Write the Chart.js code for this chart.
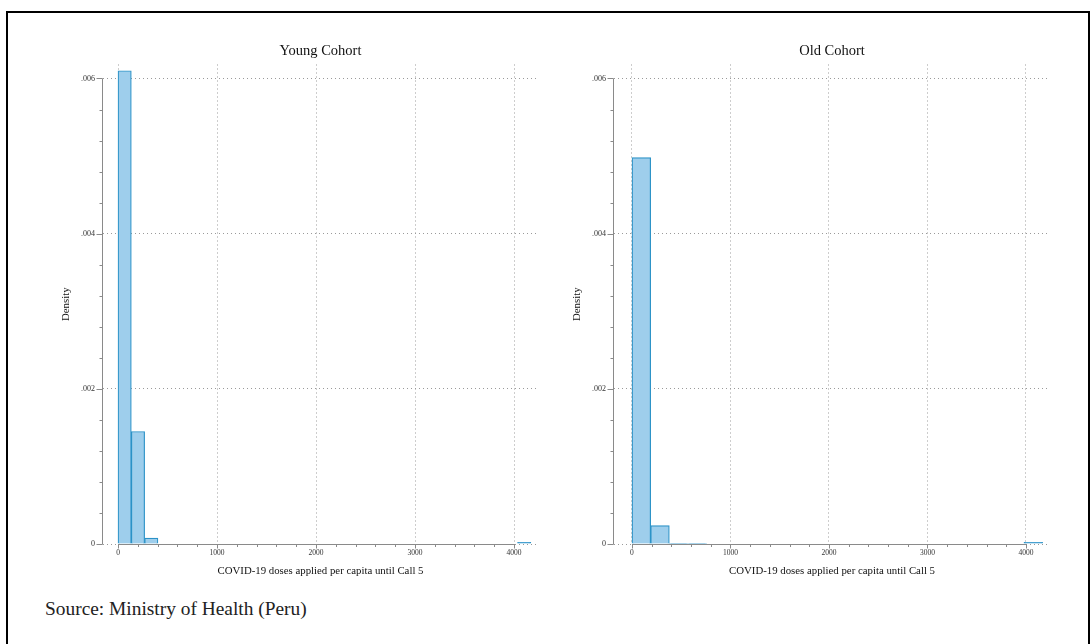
<!DOCTYPE html>
<html><head><meta charset="utf-8">
<script src="https://cdn.jsdelivr.net/npm/chart.js@4.4.1/dist/chart.umd.min.js"></script>
<style>
html,body{margin:0;padding:0;background:#fff;width:1091px;height:644px;overflow:hidden;}
#frame{position:absolute;left:6px;top:11px;width:1084px;height:700px;border:2px solid #000;box-sizing:border-box;}
canvas{position:absolute;}
#c1{left:20px;top:30px;}
#c2{left:545px;top:30px;}
#src{position:absolute;left:45px;top:599px;font-family:"Liberation Serif","Times New Roman",serif;font-size:19.4px;line-height:1;color:#222;white-space:nowrap;}
</style></head>
<body>
<div id="frame"></div>
<canvas id="c1" width="520" height="560"></canvas>
<canvas id="c2" width="520" height="560"></canvas>
<div id="src">Source: Ministry of Health (Peru)</div>
<script>
// ---- data ----
const youngBinCenters = [67.25, 201.75, 336.25, 4102.75];
const youngDensity    = [0.00610, 0.00145, 0.000077, 0.000020];
const oldBinCenters   = [94.75, 284.25, 473.75, 663.25, 4074.25];
const oldDensity      = [0.00498, 0.000236, 0.000010, 0.000004, 0.000020];
const xTickValues = [0, 1000, 2000, 3000, 4000];
const xTickLabels = ['0', '1000', '2000', '3000', '4000'];
const yTickValues = [0, 0.002, 0.004, 0.006];
const yTickLabels = ['0', '.002', '.004', '.006'];
const chartTitles = ['Young Cohort', 'Old Cohort'];
const xAxisTitle = 'COVID-19 doses applied per capita until Call 5';
const yAxisTitle = 'Density';
const xMinorStep = 200;
const yMinorStep = 0.0004;

const FONT = "'Liberation Serif', 'Times New Roman', serif";
Chart.defaults.font.family = FONT;

const axisPlugin = {
  id: 'stataAxes',
  afterDraw(chart) {
    const {ctx, chartArea: a, scales: {x, y}} = chart;
    ctx.save();
    ctx.strokeStyle = '#8a8a8a';
    ctx.lineWidth = 1;
    const L = Math.round(a.left) - 0.5;
    const B = Math.round(a.bottom) + 0.5;
    const y0 = y.getPixelForValue(yTickValues[0]);
    const y1 = y.getPixelForValue(yTickValues[yTickValues.length - 1]);
    const x0 = x.getPixelForValue(xTickValues[0]);
    const x1 = x.getPixelForValue(xTickValues[xTickValues.length - 1]);
    ctx.beginPath();
    ctx.moveTo(L, Math.round(y0) + 0.5); ctx.lineTo(L, Math.round(y1) + 0.5);
    ctx.moveTo(Math.round(x0), B); ctx.lineTo(Math.round(x1) + 1, B);
    const yMax = yTickValues[yTickValues.length - 1];
    for (let i = 0; i * yMinorStep <= yMax + 1e-9; i++) {
      const v = i * yMinorStep;
      const major = yTickValues.some(t => Math.abs(t - v) < 1e-9);
      const py = Math.round(y.getPixelForValue(v)) + 0.5;
      ctx.moveTo(L - (major ? 6 : 3), py); ctx.lineTo(L, py);
    }
    const xMax = xTickValues[xTickValues.length - 1];
    for (let i = 0; i * xMinorStep <= xMax + 1e-9; i++) {
      const v = i * xMinorStep;
      const major = xTickValues.includes(v);
      const px = Math.round(x.getPixelForValue(v)) + 0.5;
      ctx.moveTo(px, B); ctx.lineTo(px, B + (major ? 4 : 2.5));
    }
    ctx.stroke();
    ctx.restore();
  }
};

function makeChart(id, title, centers, dens, cfg) {
  return new Chart(document.getElementById(id), {
    type: 'bar',
    data: {
      datasets: [{
        data: centers.map((c, i) => ({x: c, y: dens[i]})),
        backgroundColor: 'rgb(158,206,236)',
        borderColor: 'rgb(43,146,199)',
        borderWidth: 1.2,
        barPercentage: 1,
        categoryPercentage: 1,
        borderSkipped: 'start',
        grouped: false
      }]
    },
    plugins: [axisPlugin],
    options: {
      responsive: false,
      animation: false,
      devicePixelRatio: 1,
      layout: {padding: {left: 0, right: cfg.padRight, top: 0, bottom: 0}},
      plugins: {
        legend: {display: false},
        tooltip: {enabled: false},
        title: {
          display: true, text: title, fullSize: false,
          font: {family: FONT, size: 14.5, weight: 'normal'},
          color: '#111', padding: {top: 12, bottom: 5.1}
        }
      },
      scales: {
        x: {
          type: 'linear', min: cfg.xMin, max: cfg.xMax, offset: false,
          afterFit(s) { s.height = 46; },
          afterBuildTicks(s) { s.ticks = xTickValues.map(v => ({value: v})); },
          ticks: {
            callback: (v, i) => xTickLabels[i],
            font: {family: FONT, size: 7.5}, color: '#333', padding: 5,
            maxRotation: 0, autoSkip: false
          },
          grid: {color: '#9a9a9a', lineWidth: 1, drawTicks: false, offset: false},
          border: {display: false, dash: [1, 3]},
          title: {display: true, text: xAxisTitle, font: {family: FONT, size: 10.8}, color: '#111', padding: 12.5}
        },
        y: {
          min: 0, max: 0.00618,
          afterFit(s) { s.width = cfg.yWidth; },
          afterBuildTicks(s) { s.ticks = yTickValues.map(v => ({value: v})); },
          ticks: {
            callback: (v, i) => yTickLabels[i],
            font: {family: FONT, size: 8}, color: '#333', padding: 8, autoSkip: false
          },
          grid: {color: '#9a9a9a', lineWidth: 1, drawTicks: false, offset: false},
          border: {display: false, dash: [1, 3]},
          title: {display: true, text: yAxisTitle, font: {family: FONT, size: 10.8}, color: '#111', padding: cfg.yTitlePad}
        }
      }
    }
  });
}

makeChart('c1', chartTitles[0], youngBinCenters, youngDensity,
  {yWidth: 83, padRight: 2, yTitlePad: 39.5, xMin: -151.5, xMax: 4242});
makeChart('c2', chartTitles[1], oldBinCenters, oldDensity,
  {yWidth: 69, padRight: 15, yTitlePad: 25.5, xMin: -182.7, xMax: 4244});
</script>
</body></html>
